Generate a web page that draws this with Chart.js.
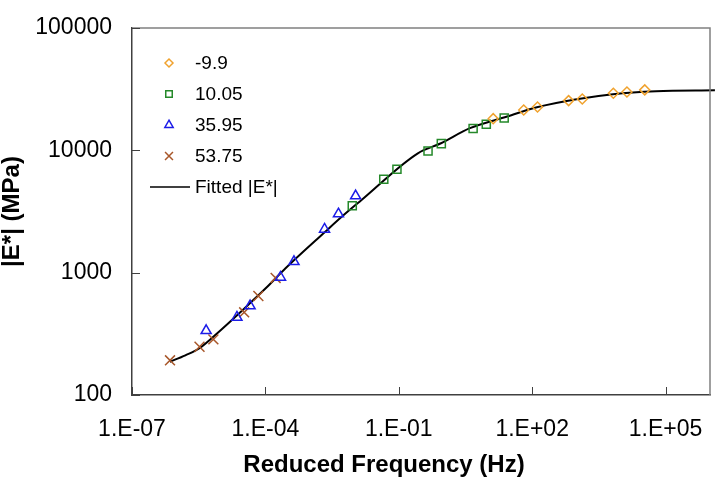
<!DOCTYPE html>
<html>
<head>
<meta charset="utf-8">
<script src="https://cdn.jsdelivr.net/npm/chart.js@4.4.1/dist/chart.umd.min.js"></script>
<style>
  html, body { margin: 0; padding: 0; background: #fff; }
  #wrap { width: 724px; height: 488px; }
</style>
</head>
<body>
<div id="wrap"><canvas id="master-curve" width="724" height="488"></canvas></div>
<script>
// |E*| master curve vs reduced frequency (log-log)
const FONT = "'Liberation Sans', Arial, sans-serif";

const xTickValues = [1e-7, 1e-4, 1e-1, 1e2, 1e5];
const xTickLabels = ['1.E-07', '1.E-04', '1.E-01', '1.E+02', '1.E+05'];
const yTickValues = [100, 1000, 10000, 100000];
const yTickLabels = ['100', '1000', '10000', '100000'];

const seriesNames = ['-9.9', '10.05', '35.95', '53.75', 'Fitted |E*|'];

// -9.9
const freqA = [13.3, 64.6, 132, 661, 1340, 6700, 13550, 34100];
const modA = [18150, 21380, 22630, 25490, 26300, 29300, 30000, 31190];
// 10.05
const freqB = [0.009, 0.046, 0.091, 0.455, 0.906, 4.7, 9.3, 23.5];
const modB = [3530, 5810, 7000, 9880, 11350, 15060, 16350, 18400];
// 35.95
const freqC = [4.65e-6, 2.29e-5, 4.53e-5, 2.19e-4, 4.4e-4, 2.14e-3, 4.4e-3, 1.07e-2];
const modC = [336, 432, 535, 916, 1230, 2265, 3020, 4240];
// 53.75
const freqD = [7.16e-7, 3.3e-6, 6.76e-6, 3.33e-5, 6.95e-5, 1.7e-4];
const modD = [192, 248, 285, 474, 645, 906];
// fitted curve
const fitFreq = [7.08e-7, 1.585e-6, 3.3e-6, 1e-5, 2.58e-5, 1.016e-4, 2.84e-4, 2.22e-3, 5.21e-3,
  1.455e-2, 0.2685, 0.891, 3.98, 27.4, 128, 1000, 6590, 61100, 1.29e6];
const fitMod = [187, 211, 241, 340, 466, 745, 1087, 2163, 2864,
  3928, 9460, 11430, 15170, 18880, 22500, 26180, 28780, 30410, 30970];

const COLORS = {
  orange: '#f0a22e',
  green: '#25892a',
  blue: '#1c1ce8',
  brown: '#a8572a',
  black: '#000000'
};

function pairs(xs, ys) {
  return xs.map((x, i) => ({ x: x, y: ys[i] }));
}

function markerSet(label, xs, ys, style, color, radius) {
  return {
    label: label,
    data: pairs(xs, ys),
    showLine: false,
    pointStyle: style,
    pointRadius: radius,
    pointBorderWidth: 1.5,
    pointBorderColor: color,
    pointBackgroundColor: 'rgba(0,0,0,0)',
    borderColor: color
  };
}

const legendItems = [
  { style: 'rectRot', color: COLORS.orange, radius: 4 },
  { style: 'rect', color: COLORS.green, radius: 4.6 },
  { style: 'triangle', color: COLORS.blue, radius: 4.8 },
  { style: 'crossRot', color: COLORS.brown, radius: 5.6 },
  { style: 'line', color: COLORS.black }
];

const framePlugin = {
  id: 'frame',
  afterDraw(chart) {
    const ctx = chart.ctx;
    const a = chart.chartArea;
    const xs = chart.scales.x;
    const ys = chart.scales.y;
    ctx.save();

    // top / right box edges
    ctx.strokeStyle = '#808080';
    ctx.lineWidth = 1.5;
    ctx.beginPath();
    ctx.moveTo(a.left, a.top);
    ctx.lineTo(a.right, a.top);
    ctx.lineTo(a.right, a.bottom);
    ctx.stroke();

    // inward tick marks
    ctx.strokeStyle = '#404040';
    ctx.lineWidth = 1;
    ctx.beginPath();
    xTickValues.forEach(v => {
      const px = Math.round(xs.getPixelForValue(v)) + 0.5;
      ctx.moveTo(px, a.bottom);
      ctx.lineTo(px, a.bottom - 8);
    });
    yTickValues.forEach(v => {
      const py = Math.round(ys.getPixelForValue(v)) + 0.5;
      ctx.moveTo(a.left, py);
      ctx.lineTo(a.left + 8, py);
    });
    ctx.stroke();

    // x axis title
    ctx.fillStyle = '#000';
    ctx.font = 'bold 24px ' + FONT;
    ctx.textAlign = 'center';
    ctx.textBaseline = 'middle';
    ctx.fillText('Reduced Frequency (Hz)', 384, 465);

    // legend
    ctx.font = '19px ' + FONT;
    ctx.textAlign = 'left';
    legendItems.forEach((item, i) => {
      const y = 63 + i * 31;
      if (item.style === 'line') {
        ctx.strokeStyle = item.color;
        ctx.lineWidth = 1.5;
        ctx.beginPath();
        ctx.moveTo(150, y);
        ctx.lineTo(190, y);
        ctx.stroke();
      } else {
        ctx.strokeStyle = item.color;
        ctx.fillStyle = 'rgba(0,0,0,0)';
        ctx.lineWidth = 1.5;
        Chart.helpers.drawPoint(ctx, { pointStyle: item.style, radius: item.radius, rotation: 0, borderWidth: 1.5 }, 169, y);
      }
      ctx.fillStyle = '#000';
      ctx.fillText(seriesNames[i], 195, y + 1);
    });

    ctx.restore();
  }
};

function initMasterCurve(ctx) {
  return new Chart(ctx, {
    type: 'scatter',
    data: {
      datasets: [
        markerSet(seriesNames[0], freqA, modA, 'rectRot', COLORS.orange, 5),
        markerSet(seriesNames[1], freqB, modB, 'rect', COLORS.green, 5.7),
        markerSet(seriesNames[2], freqC, modC, 'triangle', COLORS.blue, 5.8),
        markerSet(seriesNames[3], freqD, modD, 'crossRot', COLORS.brown, 7),
        {
          label: seriesNames[4],
          data: pairs(fitFreq, fitMod),
          showLine: true,
          borderColor: COLORS.black,
          borderWidth: 2,
          pointRadius: 0,
          cubicInterpolationMode: 'monotone',
          clip: { left: 0, top: 0, right: 8, bottom: 0 }
        }
      ]
    },
    options: {
      responsive: false,
      animation: false,
      layout: { padding: { top: 28, right: 9, left: 0, bottom: 0 } },
      plugins: { legend: { display: false }, tooltip: { enabled: false } },
      scales: {
        x: {
          type: 'logarithmic',
          min: 1e-7,
          max: 1e6,
          afterBuildTicks: s => { s.ticks = xTickValues.map(v => ({ value: v })); },
          afterFit: s => { s.height = 93; },
          ticks: {
            autoSkip: false,
            maxRotation: 0,
            padding: 21,
            color: '#000',
            font: { family: FONT, size: 23 },
            callback: (v, i) => xTickLabels[i]
          },
          grid: { drawOnChartArea: false, drawTicks: false },
          border: { color: '#404040', width: 1.5 }
        },
        y: {
          type: 'logarithmic',
          min: 100,
          max: 100000,
          afterBuildTicks: s => { s.ticks = yTickValues.map(v => ({ value: v })); },
          afterFit: s => {
            s.width = 132;
            s.paddingTop = 0;
            s.paddingBottom = 0;
          },
          ticks: {
            autoSkip: false,
            padding: 20,
            color: '#000',
            font: { family: FONT, size: 23 },
            callback: (v, i) => yTickLabels[i]
          },
          grid: { drawOnChartArea: false, drawTicks: false },
          border: { color: '#404040', width: 1.5 },
          title: {
            display: true,
            text: '|E*| (MPa)',
            color: '#000',
            padding: 0,
            font: { family: FONT, size: 24, weight: 'bold', lineHeight: 1 }
          }
        }
      }
    },
    plugins: [framePlugin]
  });
}

document.addEventListener('DOMContentLoaded', function() {
  initMasterCurve(document.getElementById('master-curve'));
});
</script>
</body>
</html>
